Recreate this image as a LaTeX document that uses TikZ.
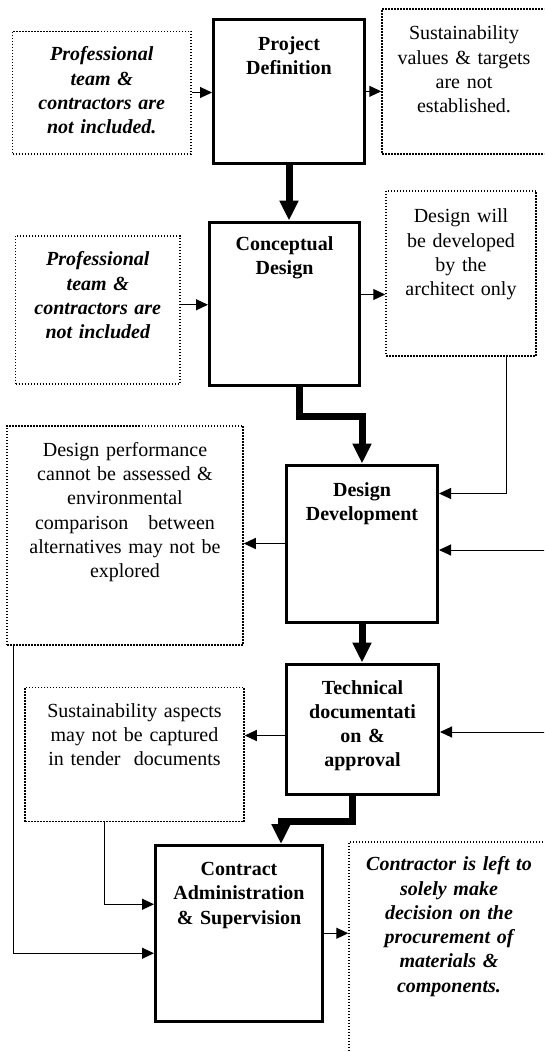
\documentclass[tikz,border=0pt]{standalone}
\usepackage{fontspec}
\setmainfont{Liberation Serif}
\usetikzlibrary{arrows.meta}
\newcommand{\chartfont}{\fontsize{20}{24.3}\selectfont}

\begin{document}
\begin{tikzpicture}[x=1pt,y=-1pt,
  stage/.style={draw,line width=3pt,font=\chartfont\bfseries,align=center,anchor=north,inner sep=0pt},
  note/.style={draw,line width=1.5pt,dash pattern=on 1.5pt off 1.5pt,font=\chartfont,align=center,anchor=north,inner sep=0pt},
  noteit/.style={note,font=\chartfont\bfseries\itshape},
  flow/.style={line width=1pt,-{Triangle[length=12pt,width=11pt]}},
  bigflow/.style={line width=7pt,-{Triangle[length=20pt,width=18pt]}}]
  \useasboundingbox (0,0) rectangle (544,1052);
  \clip (0,0) rectangle (544,1052);

  % stages
  \node[stage,text width=151pt,text height=30.4pt,text depth=112.9pt] (pd) at (289,18.2) {Project\\Definition};
  \node[stage,text width=150pt,text height=28.5pt,text depth=134.5pt] (cd) at (284.5,220.5) {Conceptual\\Design};
  \node[stage,text width=151pt,text height=31pt,text depth=126pt] (dd) at (362,463.5) {Design\\Development};
  \node[stage,text width=152pt,text height=30pt,text depth=100pt] (td) at (362.5,662.5) {Technical\\documentati\\on \&\\approval};
  \node[stage,text width=167pt,text height=30pt,text depth=145.5pt] (ca) at (239,844) {Contract\\Administration\\\& Supervision};

  % notes
  \node[noteit,text width=178.5pt,text height=29.5pt,text depth=93pt] (lb1) at (101.75,30.5) {Professional\\team \&\\contractors are\\not included.};
  \node[note,text width=164pt,text height=30.7pt,text depth=114pt] (rb1) at (464,8.3) {Sustainability\\values \& targets\\are not\\established.};
  \node[noteit,text width=164.4pt,text height=30pt,text depth=118pt] (lb2) at (97.8,235) {Professional\\team \&\\contractors are\\not included};
  \node[note,text width=150pt,text height=32pt,text depth=133pt] (rb2) at (461,190) {Design will\\be developed\\by the\\architect only};
  \node[note,text width=236pt,text height=30.6pt,text depth=188.4pt] (lb3) at (125,425) {Design performance\\cannot be assessed \&\\environmental\\comparison~~ between\\alternatives may not be\\explored};
  \node[note,text width=219pt,text height=30pt,text depth=104.3pt] (lb4) at (134.5,686.6) {Sustainability aspects\\may not be captured\\in tender~ documents};
  \node[noteit,text width=200pt,text height=29pt,text depth=200pt] (rb3) at (449,841) {Contractor is left to\\solely make\\decision on the\\procurement of\\materials \&\\components.};

  \coordinate (in1) at (546,550);
  \coordinate (in2) at (546,732);

  % connectors
  \draw[flow] (lb1.east) -- (lb1.east -| pd.west);
  \draw[flow] (pd.east) -- (pd.east -| rb1.west);
  \draw[bigflow] (pd.south) -- (pd.south |- cd.north);
  \draw[flow] ([yshift=5pt]lb2.east) -- ([yshift=5pt]lb2.east -| cd.west);
  \draw[flow] ([yshift=9pt]cd.east) -- ([yshift=9pt]cd.east -| rb2.west);
  \draw[bigflow] ([xshift=15pt]cd.south) -- ++(0,30) -| (dd.north);
  \draw[flow] ([xshift=45pt]rb2.south) |- ([yshift=50pt]dd.east);
  \draw[flow] (in1) -- (in1 -| dd.east);
  \draw[flow] (dd.west) -- (dd.west -| lb3.east);
  \draw[bigflow] (dd.south) -- (dd.south |- td.north);
  \draw[flow] ([yshift=-6.5pt]td.west) -- ([yshift=-6.5pt]td.west -| lb4.east);
  \draw[flow] (in2) -- (in2 -| td.east);
  \draw[flow] ([xshift=-112pt]lb3.south) |- ([yshift=-20pt]ca.west);
  \draw[flow] ([xshift=-30pt]lb4.south) |- ([yshift=29pt]ca.west);
  \draw[bigflow] ([xshift=-10pt]td.south) -- ++(0,26) -| ([xshift=42pt]ca.north);
  \draw[flow] (ca.east) -- (ca.east -| rb3.west);
\end{tikzpicture}
\end{document}
